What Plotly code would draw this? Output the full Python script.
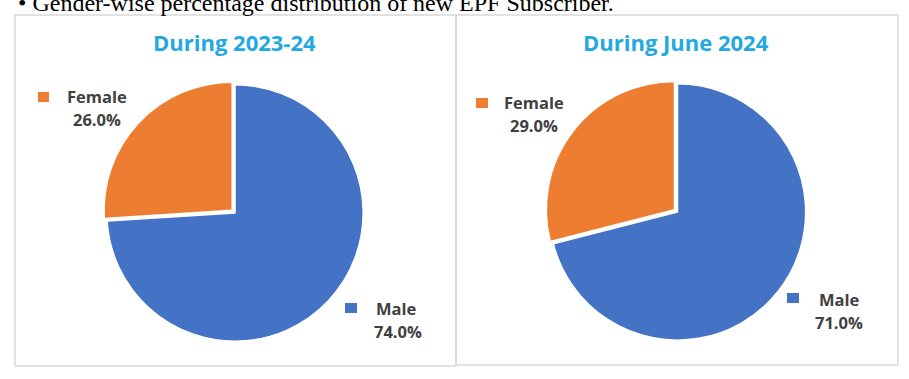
import plotly.graph_objects as go

# ---- data ----
genders = ["Male", "Female"]
values_2023_24 = [74.0, 26.0]
values_june_2024 = [71.0, 29.0]
panel_titles = ["During 2023-24", "During June 2024"]
colors = ["#4472C4", "#ED7D31"]
heading = "• Gender-wise percentage distribution of new EPF Subscriber."

W, H = 909, 379


def px(x):
    return x / W


def py(y):
    return 1 - y / H


fig = go.Figure()

pull = [0, 0.03]
R = 132
centers = [(235, 213), (677.5, 212)]
for (cx, cy), vals in zip(centers, [values_2023_24, values_june_2024]):
    fig.add_trace(go.Pie(
        labels=genders, values=vals, sort=False, direction="clockwise", rotation=0,
        marker=dict(colors=colors, line=dict(color="white", width=1.5)),
        pull=pull, textinfo="none", hoverinfo="label+percent", showlegend=False,
        domain=dict(x=[px(cx - R), px(cx + R)], y=[py(cy + R), py(cy - R)]),
    ))

ann = []
# heading line (cut at top as in the page screenshot)
ann.append(dict(text=heading, x=px(16), y=py(3), xref="paper", yref="paper",
                xanchor="left", yanchor="middle", showarrow=False,
                font=dict(family="Liberation Serif", size=24, color="#000000")))
# panel titles
for title, cx in zip(panel_titles, [235, 676]):
    ann.append(dict(text=f"<b>{title}</b>", x=px(cx), y=py(42), xref="paper", yref="paper",
                    xanchor="center", yanchor="middle", showarrow=False,
                    font=dict(family="Open Sans", size=22, color="#22A9E0")))

# data labels with legend keys
label_pos = [
    # (name center, pct center, square box) for each panel, per gender order [Male, Female]
    [((396.5, 308.5), (397.5, 331.5), (345, 303, 357, 313)),
     ((97, 96), (96.5, 119), (38, 92, 49, 102))],
    [((839, 299), (839, 322), (787, 293, 799, 303)),
     ((533.5, 102.5), (533.5, 125.5), (476, 98, 488, 108))],
]
shapes = []
for vals, poss in zip([values_2023_24, values_june_2024], label_pos):
    for g, v, c, (npos, ppos, sq) in zip(genders, vals, colors, poss):
        ann.append(dict(text=f"<b>{g}</b>", x=px(npos[0]), y=py(npos[1]), xref="paper", yref="paper",
                        xanchor="center", yanchor="middle", showarrow=False,
                        font=dict(family="Open Sans", size=16.5, color="#404040")))
        ann.append(dict(text=f"<b>{v:.1f}%</b>", x=px(ppos[0]), y=py(ppos[1]), xref="paper", yref="paper",
                        xanchor="center", yanchor="middle", showarrow=False,
                        font=dict(family="Open Sans", size=16.5, color="#404040")))
        shapes.append(dict(type="rect", xref="paper", yref="paper",
                           x0=px(sq[0]), x1=px(sq[2]), y0=py(sq[3]), y1=py(sq[1]),
                           fillcolor=c, line=dict(width=0)))

# panel borders
for x0, x1, y1 in [(15, 456, 366), (456, 898, 365)]:
    shapes.append(dict(type="rect", xref="paper", yref="paper",
                       x0=px(x0), x1=px(x1), y0=py(y1), y1=py(15),
                       fillcolor="rgba(0,0,0,0)", line=dict(color="#D9D9D9", width=1.5), layer="below"))

fig.update_layout(
    width=W, height=H, margin=dict(l=0, r=0, t=0, b=0),
    paper_bgcolor="white", plot_bgcolor="white",
    annotations=ann, shapes=shapes,
)

fig.write_html("out.html", config={"displayModeBar": False},
               post_script="document.body.style.margin='0';")
